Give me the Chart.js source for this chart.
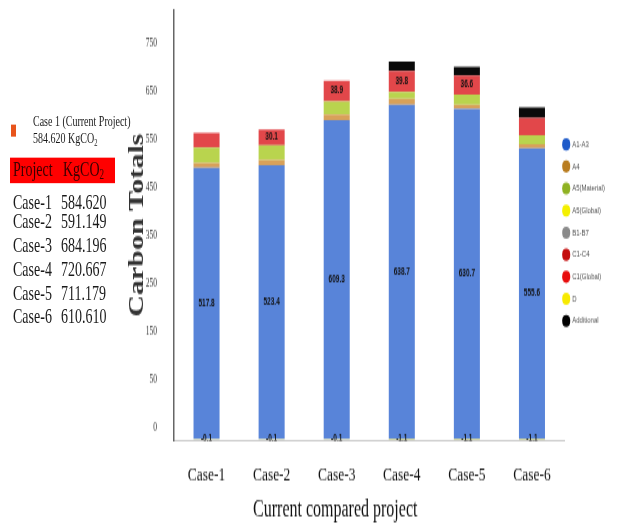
<!DOCTYPE html>
<html>
<head>
<meta charset="utf-8">
<title>Carbon Totals</title>
<script src="https://cdn.jsdelivr.net/npm/chart.js@4.4.1/dist/chart.umd.min.js"></script>
<style>
	html { overflow: hidden; }
	html, body { margin: 0; padding: 0; background: #fff; }
	body { width: 622px; height: 524px; }
	/* the reference picture is stretched vertically, so the whole stage is too */
	#stage { position: relative; width: 622px; height: 349px; transform: scaleY(1.5014); transform-origin: 0 0; }
	#carbonChart { position: absolute; left: 0; top: 0; width: 622px; height: 349px; }
	#side { position: absolute; left: 0; top: 0; width: 125px; height: 349px; font-family: "Liberation Serif", "Times New Roman", serif; color: #1a1a1a; }
	#side .mark { position: absolute; left: 11px; top: 82.7px; width: 5px; height: 8px; background: #e8541c; }
	#side .current { position: absolute; left: 33px; top: 75px; font-size: 10px; line-height: 11.3px; white-space: nowrap; }
	#side .head { position: absolute; left: 10px; top: 105.3px; width: 105px; height: 16.7px; background: #ff0000; color: #3a0000; font-size: 14px; line-height: 16.7px; }
	#side .rows { position: absolute; left: 13px; top: 123.9px; font-size: 14px; line-height: 15.9px; }
	#side .rows div:first-child { position: relative; top: 3.5px; }
	#side .name { display: inline-block; width: 48px; }
	#side .head .name { margin-left: 3px; width: 50px; }
	sub { font-size: 65%; vertical-align: -2px; line-height: 0; }
</style>
</head>
<body>
<div id="stage">
	<canvas id="carbonChart" width="622" height="349"></canvas>
	<div id="side">
		<div class="mark"></div>
		<div class="current">Case 1 (Current Project)<br>584.620 KgCO<sub>2</sub></div>
		<div class="head"><span class="name">Project</span><span>KgCO<sub>2</sub></span></div>
		<div class="rows" id="tableRows"></div>
	</div>
</div>
<script>
const cases = ['Case-1', 'Case-2', 'Case-3', 'Case-4', 'Case-5', 'Case-6'];
const tableTotals = ['584.620', '591.149', '684.196', '720.667', '711.179', '610.610'];

const seriesNames = ['A1-A3', 'A4', 'A5(Material)', 'A5(Global)', 'B1-B7', 'C1-C4', 'C1(Global)', 'D', 'Additional'];
const a1a3 = [517.8, 523.4, 609.3, 638.7, 630.7, 555.6];
const a4 = [9.3, 10.0, 10.8, 11.0, 8.0, 8.0];
const a5Material = [29.6, 27.6, 25.2, 13.5, 19.0, 17.0];
const a5Global = [0, 0, 0, 0, 0, 0];
const b1b7 = [0, 0, 0, 0, 0, 0];
const c1c4 = [27.9, 30.1, 38.9, 39.8, 36.6, 33.0];
const c1Global = [0, 0, 0, 0, 0, 0];
const moduleD = [-0.1, -0.1, -0.1, -1.1, -1.1, -1.1];
const additional = [0, 0, 0, 17.7, 16.9, 19.6];

// which segments carry a value label
const c1c4Labelled = [false, true, true, true, true, false];

// y tick texts as printed on the reference axis
const yTickLabels = ['0', '50', '150', '250', '350', '450', '550', '650', '750'];
const yTickStart = 21;
const yTickStep = 91.8;

const barColors = ['#5884d9', '#d8a15a', '#b9d44e', '#f2ea21', '#9a9a9a', '#e2474a', '#ef2020', '#f3e321', '#0a0a0a'];
const legendColors = ['#1f5bc9', '#b97d20', '#8fb222', '#f4f000', '#8a8a8a', '#c40d0d', '#e80c0c', '#f7ea00', '#000000'];

// side table
const rowsBox = document.getElementById('tableRows');
cases.forEach((c, i) => {
	const row = document.createElement('div');
	row.innerHTML = `<span class="name">${c}</span><span>${tableTotals[i]}</span>`;
	rowsBox.appendChild(row);
});

const seriesData = [a1a3, a4, a5Material, a5Global, b1b7, c1c4, c1Global, moduleD, additional];
const allLabels = cases.map(() => true);

const datasets = seriesNames.map((name, i) => ({
	label: name,
	data: seriesData[i],
	backgroundColor: barColors[i],
	borderWidth: 0,
	barPercentage: 0.4,
	categoryPercentage: 1,
	showLabels: i === 0 || i === 7 ? allLabels : (i === 5 ? c1c4Labelled : null),
}));

//Value text in the middle of a segment
const segmentLabels = {
	id: 'segmentLabels',
	afterDatasetsDraw(chart) {
		const { ctx, chartArea } = chart;
		ctx.save();
		ctx.beginPath();
		ctx.rect(chartArea.left, chartArea.top, chartArea.right - chartArea.left, chartArea.bottom - chartArea.top);
		ctx.clip();
		ctx.font = 'bold 6.5px "Liberation Sans Narrow", "Liberation Sans", sans-serif';
		ctx.fillStyle = '#111';
		ctx.textAlign = 'center';
		ctx.textBaseline = 'middle';
		chart.data.datasets.forEach((ds, di) => {
			if (!ds.showLabels) return;
			chart.getDatasetMeta(di).data.forEach((bar, i) => {
				if (!ds.showLabels[i]) return;
				ctx.fillText(ds.data[i].toFixed(1), bar.x, (bar.y + bar.base) / 2);
			});
		});
		ctx.restore();
	},
};

// legend sits partly over the plot edge in the reference, its text runs off the page
const legendNudge = {
	id: 'legendNudge',
	afterLayout(chart) {
		const lg = chart.legend;
		lg.left -= 10;
		lg.right = chart.width + 30;
		lg.width = lg.right - lg.left;
		lg.top += 5;
		lg.bottom += 5;
	},
};

const ctx = document.getElementById('carbonChart').getContext('2d');
const myChart = new Chart(ctx, {
	type: 'bar',
	data: { labels: cases, datasets: datasets },
	options: {
		responsive: false,
		animation: false,
		layout: { padding: { left: 122, top: 5, right: 17.5, bottom: 0 } },
		scales: {
			x: {
				stacked: true,
				afterFit: (scale) => {
					scale.height = 55.6;
				},
				grid: { display: false, drawTicks: false },
				border: { color: '#cccccc', width: 1 },
				ticks: { font: { family: 'Liberation Serif', size: 13.5 }, color: '#111', padding: 14.6, maxRotation: 0 },
				title: {
					display: true,
					// trailing spaces pull the centred title left, as in the reference
					text: 'Current compared project' + ' '.repeat(17),
					font: { family: 'Liberation Serif', size: 16 },
					color: '#111',
					padding: { top: 5.6, bottom: 0 },
				},
			},
			y: {
				stacked: true,
				min: -3,
				max: 820,
				afterFit: (scale) => {
					scale.width = 52;
				},
				afterBuildTicks: (scale) => {
					scale.ticks = yTickLabels.map((t, i) => ({ value: yTickStart + i * yTickStep }));
				},
				ticks: {
					callback: (v, i) => yTickLabels[i],
					autoSkip: false,
					font: { family: 'Liberation Serif', size: 7.5 },
					color: '#333',
					padding: 2,
				},
				grid: { display: true, drawOnChartArea: false, drawTicks: true, tickLength: 15, color: 'transparent' },
				border: { color: '#666666', width: 1.5 },
				title: {
					display: true,
					text: 'Carbon Totals',
					font: { family: 'Liberation Serif', size: 20, weight: 'bold' },
					color: '#333',
					padding: { top: 4, bottom: 0 },
				},
			},
		},
		plugins: {
			tooltip: { enabled: false },
			legend: {
				position: 'right',
				fullSize: false,
				maxWidth: 40,
				labels: {
					usePointStyle: true,
					pointStyle: 'circle',
					boxWidth: 6,
					boxHeight: 5.7,
					padding: 8.7,
					font: { family: 'Liberation Sans', size: 6 },
					color: '#555',
					generateLabels: (chart) =>
						Chart.defaults.plugins.legend.labels.generateLabels(chart).map((item, i) => ({
							...item,
							fillStyle: legendColors[i],
							strokeStyle: legendColors[i],
						})),
				},
			},
		},
	},
	plugins: [segmentLabels, legendNudge],
});
</script>
</body>
</html>
